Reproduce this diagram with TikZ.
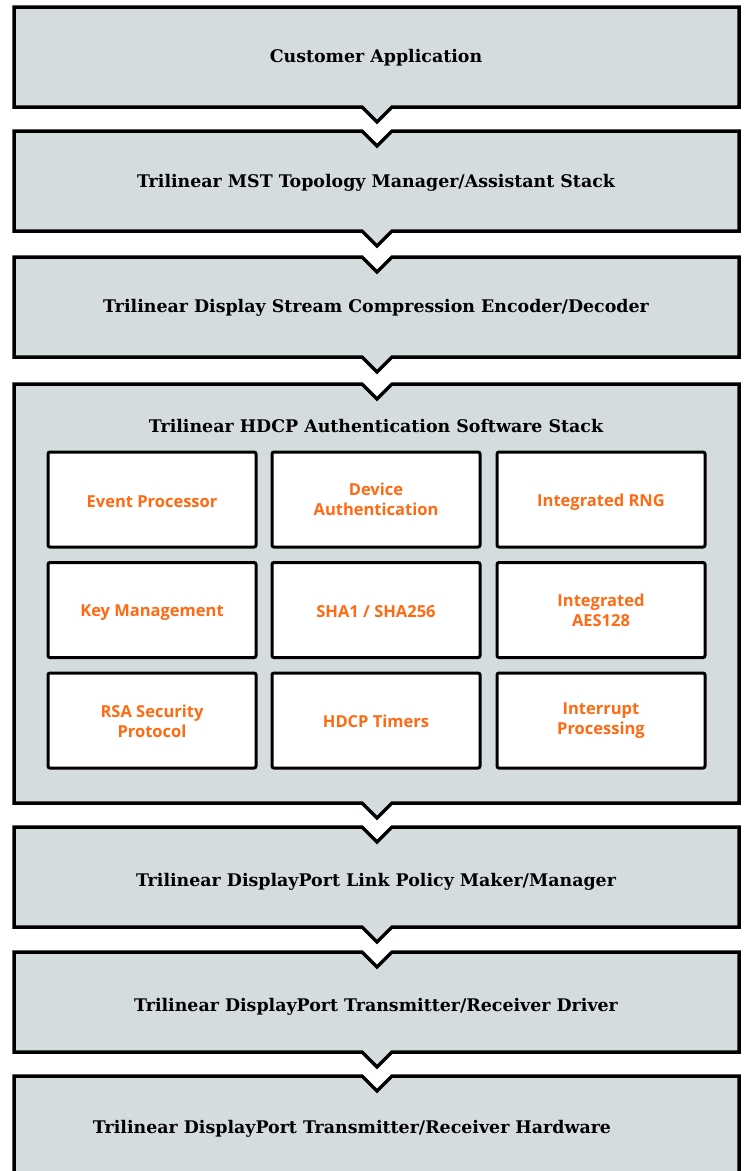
\documentclass[tikz,border=0pt]{standalone}
\usepackage{fontspec}
\newfontfamily\ttlfont{DejaVu Serif}
\newfontfamily\orfont{Open Sans}
\definecolor{layergray}{RGB}{213,220,222}
\definecolor{hdcporange}{RGB}{255,106,19}
\tikzset{
  layer/.style={draw=black, line width=3.5pt, fill=layergray, line join=miter},
  ttl/.style={font=\ttlfont\bfseries\fontsize{17.4}{20}\selectfont, text=black},
  inbox/.style={draw=black, line width=3pt, fill=white, rounded corners=2pt,
    minimum width=208pt, minimum height=95pt, inner sep=0pt},
  intext/.style={font=\orfont\bfseries\fontsize{16.5}{20}\selectfont, text=hdcporange, align=center, inner sep=0pt},
}
\begin{document}
\begin{tikzpicture}[x=1pt,y=-1pt]
\useasboundingbox (0,0) rectangle (746,1171);
\clip (0,0) rectangle (746,1171);
% layer 1 (no top notch)
\draw[layer] (14,7) -- (739,7) -- (739,107) -- (392,107) -- (377,122) -- (362,107) -- (14,107) -- cycle;
% generic layers with top and bottom notch
\foreach \T/\B in {131/231, 257/357, 384/803, 827/927, 952/1052, 1076/1195}{
  \draw[layer] (14,\T) -- (362,\T) -- (377,{\T+15}) -- (392,\T) -- (739,\T) -- (739,\B)
    -- (392,\B) -- (377,{\B+15}) -- (362,\B) -- (14,\B) -- cycle;
}
\node[ttl] (l1) at (376,58) {Customer Application};
\node[ttl] (l2) at (376,183) {Trilinear MST Topology Manager/Assistant Stack};
\node[ttl] (l3) at (376,308) {Trilinear Display Stream Compression Encoder/Decoder};
\node[ttl] (l4) at (376,426) {Trilinear HDCP Authentication Software Stack};
\node[ttl] (l5) at (376,882) {Trilinear DisplayPort Link Policy Maker/Manager};
\node[ttl] (l6) at (376,1007) {Trilinear DisplayPort Transmitter/Receiver Driver};
\node[ttl] (l7) at (352,1129) {Trilinear DisplayPort Transmitter/Receiver Hardware};
% inner modules
\node[inbox] (m11) at (152,499.5) {};
\node[inbox] (m12) at (376,499.5) {};
\node[inbox] (m13) at (601,499.5) {};
\node[inbox] (m21) at (152,610) {};
\node[inbox] (m22) at (376,610) {};
\node[inbox] (m23) at (601,610) {};
\node[inbox] (m31) at (152,720.5) {};
\node[inbox] (m32) at (376,720.5) {};
\node[inbox] (m33) at (601,720.5) {};
\node[intext] (t11) at ([yshift=-2.5pt]m11.center) {Event Processor};
\node[intext] (t12) at (m12.center) {Device\\Authentication};
\node[intext] (t13) at ([yshift=-2.5pt]m13.center) {Integrated RNG};
\node[intext] (t21) at ([yshift=-3pt]m21.center) {Key Management};
\node[intext] (t22) at ([yshift=-2pt]m22.center) {SHA1 / SHA256};
\node[intext] (t23) at (m23.center) {Integrated\\AES128};
\node[intext] (t31) at ([yshift=-0.5pt]m31.center) {RSA Security\\Protocol};
\node[intext] (t32) at ([yshift=-1pt]m32.center) {HDCP Timers};
\node[intext] (t33) at (m33.center) {Interrupt\\Processing};
\end{tikzpicture}
\end{document}
